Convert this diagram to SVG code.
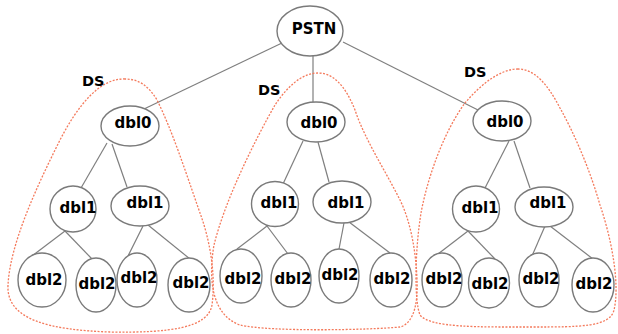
<svg xmlns="http://www.w3.org/2000/svg" width="618" height="334" viewBox="0 0 618 334">
<style>
.n ellipse{fill:#fff;stroke:#7a7a7a;stroke-width:1.4}
.n text,.lbl{font-family:"DejaVu Sans",Verdana,sans-serif;font-weight:bold;font-size:15px;fill:#000;text-anchor:middle}
.lbl{text-anchor:start;font-size:14.5px}
#connectors line{stroke:#7f7f7f;stroke-width:1.2}
.ds{fill:none;stroke:#f47a5c;stroke-width:1.3;stroke-dasharray:2 1.5}
</style>
<rect width="618" height="334" fill="#fff"/>
<g id="connectors">
<line x1="282" y1="43" x2="144" y2="109"/>
<line x1="313" y1="56" x2="313" y2="102"/>
<line x1="343" y1="42" x2="478" y2="110"/>
<line x1="107" y1="143" x2="81" y2="188"/>
<line x1="112" y1="144" x2="127" y2="187"/>
<line x1="303" y1="141" x2="283" y2="184"/>
<line x1="318" y1="142" x2="329" y2="182"/>
<line x1="509" y1="141" x2="485" y2="188"/>
<line x1="514" y1="141" x2="530" y2="188"/>
<line x1="65" y1="231" x2="32" y2="256"/>
<line x1="65" y1="231" x2="92" y2="259"/>
<line x1="143" y1="226" x2="128" y2="256"/>
<line x1="148" y1="225" x2="190" y2="259"/>
<line x1="267" y1="226" x2="237" y2="249"/>
<line x1="267" y1="226" x2="288" y2="254"/>
<line x1="344" y1="223" x2="339" y2="249"/>
<line x1="349" y1="222" x2="390" y2="253"/>
<line x1="468" y1="231" x2="438" y2="254"/>
<line x1="468" y1="231" x2="495" y2="259"/>
<line x1="545" y1="226" x2="532" y2="256"/>
<line x1="550" y1="226" x2="593" y2="259"/>
</g>
<g id="pstn" class="n"><ellipse cx="310" cy="31" rx="33" ry="25"/><text x="314" y="34">PSTN</text></g>
<g id="l-dbl0" class="n"><ellipse cx="130" cy="126" rx="29" ry="20"/><text x="133" y="128">dbl0</text></g>
<g id="m-dbl0" class="n"><ellipse cx="316" cy="122" rx="29" ry="20"/><text x="319" y="128">dbl0</text></g>
<g id="r-dbl0" class="n"><ellipse cx="502" cy="121" rx="29" ry="20"/><text x="505" y="127">dbl0</text></g>
<g id="l-dbl1a" class="n"><ellipse cx="73" cy="209" rx="23" ry="23"/><text x="78" y="213">dbl1</text></g>
<g id="l-dbl1b" class="n"><ellipse cx="140" cy="206" rx="29" ry="20"/><text x="145" y="208">dbl1</text></g>
<g id="m-dbl1a" class="n"><ellipse cx="275" cy="204" rx="23.5" ry="22.5"/><text x="279" y="208">dbl1</text></g>
<g id="m-dbl1b" class="n"><ellipse cx="342" cy="202" rx="29" ry="21"/><text x="346" y="208">dbl1</text></g>
<g id="r-dbl1a" class="n"><ellipse cx="476" cy="209" rx="23.5" ry="23"/><text x="480" y="213">dbl1</text></g>
<g id="r-dbl1b" class="n"><ellipse cx="544" cy="207" rx="29" ry="20"/><text x="548" y="208">dbl1</text></g>
<g id="l-dbl2a" class="n"><ellipse cx="42" cy="280" rx="24" ry="27"/><text x="44" y="285">dbl2</text></g>
<g id="l-dbl2b" class="n"><ellipse cx="96" cy="285" rx="20" ry="27"/><text x="97" y="289">dbl2</text></g>
<g id="l-dbl2c" class="n"><ellipse cx="137" cy="280" rx="20" ry="27"/><text x="139" y="283">dbl2</text></g>
<g id="l-dbl2d" class="n"><ellipse cx="189" cy="285" rx="21" ry="27"/><text x="191" y="288">dbl2</text></g>
<g id="m-dbl2a" class="n"><ellipse cx="241" cy="276" rx="21" ry="27"/><text x="243" y="284">dbl2</text></g>
<g id="m-dbl2b" class="n"><ellipse cx="291" cy="280" rx="20" ry="27"/><text x="293" y="284">dbl2</text></g>
<g id="m-dbl2c" class="n"><ellipse cx="339" cy="276" rx="20" ry="27"/><text x="340" y="280">dbl2</text></g>
<g id="m-dbl2d" class="n"><ellipse cx="391" cy="280" rx="21" ry="27"/><text x="392" y="284">dbl2</text></g>
<g id="r-dbl2a" class="n"><ellipse cx="442" cy="280" rx="20" ry="27"/><text x="444" y="284">dbl2</text></g>
<g id="r-dbl2b" class="n"><ellipse cx="489" cy="283" rx="20.5" ry="25"/><text x="490" y="289">dbl2</text></g>
<g id="r-dbl2c" class="n"><ellipse cx="539" cy="280" rx="20" ry="27"/><text x="541" y="284">dbl2</text></g>
<g id="r-dbl2d" class="n"><ellipse cx="593" cy="285" rx="21" ry="27"/><text x="594" y="289">dbl2</text></g>
<g id="ds-groups">
<path class="ds" d="M125 79 C100 78 78 105 60 140 C35 190 10 245 8 285 C6 320 50 330 110 332 C170 333 208 328 212 305 C216 275 210 240 200 213 C185 170 172 130 157 100 C148 85 138 79 125 79 Z"/>
<path class="ds" d="M318 73 C300 73 285 90 275 105 C255 140 225 200 214 245 C208 280 212 315 240 325 C270 332 370 330 400 327 C415 323 418 300 417 280 C416 250 410 220 400 200 C385 170 365 140 355 110 C345 85 333 73 318 73 Z"/>
<path class="ds" d="M518 69 C500 69 480 85 465 103 C445 130 428 175 421 213 C415 250 414 300 420 315 C430 328 480 327 533 327 C580 327 610 327 614 310 C620 285 612 240 600 205 C590 170 575 135 560 108 C548 85 535 69 518 69 Z"/>
<text class="lbl" x="82" y="86">DS</text>
<text class="lbl" x="258" y="95">DS</text>
<text class="lbl" x="464" y="77">DS</text>
</g>
</svg>
